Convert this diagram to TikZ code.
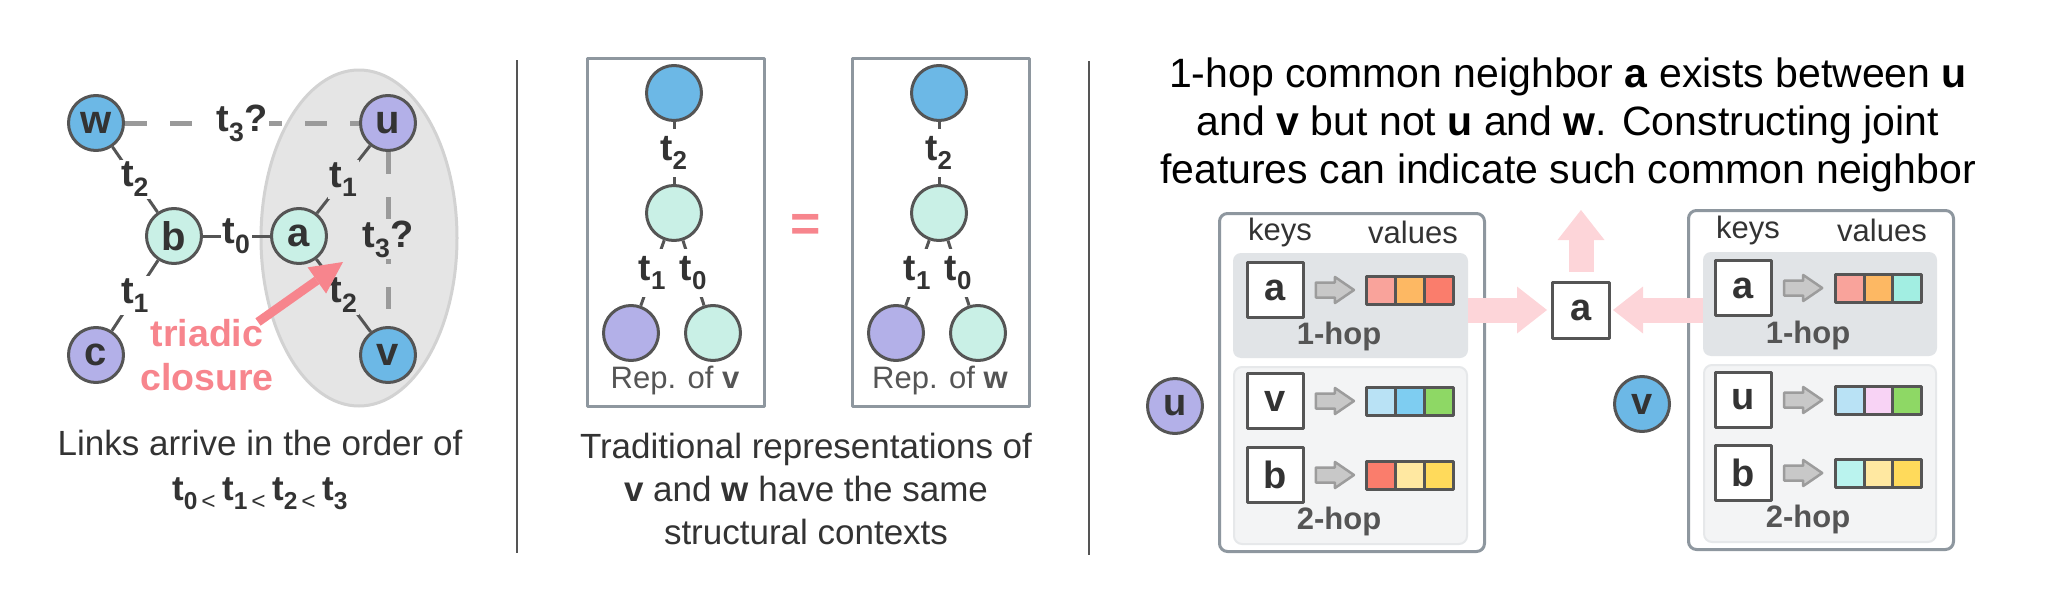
\documentclass[tikz,border=0pt]{standalone}
\usepackage{fontspec}
\setmainfont{Liberation Sans}
\usetikzlibrary{arrows.meta,calc}

\definecolor{nblue}{HTML}{6CB8E6}
\definecolor{npurple}{HTML}{B3B0E8}
\definecolor{nmint}{HTML}{C9F0E6}
\definecolor{ndark}{HTML}{555555}
\definecolor{txtdark}{HTML}{333333}
\definecolor{dashgray}{HTML}{9A9A9A}
\definecolor{ellgray}{HTML}{E5E5E5}
\definecolor{ellline}{HTML}{D2D2D2}
\definecolor{tcpink}{HTML}{F7858D}
\definecolor{boxgray}{HTML}{8E979F}
\definecolor{hopone}{HTML}{E1E4E7}
\definecolor{hoptwo}{HTML}{F3F4F5}
\definecolor{hoptwoline}{HTML}{E6E8EA}
\definecolor{arrpink}{HTML}{FDD5D9}
\definecolor{kvfill}{HTML}{C8C8C8}
\definecolor{kvline}{HTML}{9C9C9C}
% colours of the value cells
\definecolor{vsalmon}{HTML}{F9A39B}
\definecolor{vorange}{HTML}{FDB863}
\definecolor{vred}{HTML}{FA7D6C}
\definecolor{vaqua}{HTML}{A2EEE2}
\definecolor{vlblue}{HTML}{B9E2F5}
\definecolor{vsky}{HTML}{7ECDF1}
\definecolor{vgreen}{HTML}{8ED865}
\definecolor{vpink}{HTML}{F8D3F5}
\definecolor{vcyan}{HTML}{BAF3EE}
\definecolor{vlyellow}{HTML}{FFE8A1}
\definecolor{vyellow}{HTML}{FFDA5B}

\newcommand\tsb[1]{t\textsubscript{#1}}
\newcommand\tlt[1]{t\textsubscript{#1\,{\mdseries <}}}

\tikzset{
  gnode/.style={circle,draw=ndark,line width=3pt,minimum size=55pt,inner sep=0pt,
    font=\fontsize{40}{40}\selectfont\bfseries,text=txtdark},
  gedge/.style={draw=ndark,line width=3pt},
  qedge/.style={draw=dashgray,line width=5pt,dash pattern=on 22pt off 23pt},
  elabel/.style={font=\fontsize{38}{38}\selectfont\bfseries,text=txtdark,
    inner xsep=1.5pt,inner ysep=2pt,fill=white},
  rlabel/.style={font=\fontsize{37}{37}\selectfont\bfseries,text=txtdark,
    inner xsep=2pt,inner ysep=7pt,fill=white},
  captxt/.style={align=center,text=txtdark},
  sepline/.style={draw=ndark,line width=2pt},
  repbox/.style={draw=boxgray,line width=3pt},
  tblbox/.style={draw=boxgray,fill=white,line width=3pt,rounded corners=8pt},
  hopone/.style={fill=hopone,rounded corners=8pt,inner sep=0pt},
  hoptwo/.style={fill=hoptwo,draw=hoptwoline,line width=2pt,rounded corners=8pt,inner sep=0pt},
  hoplbl/.style={font=\fontsize{31}{31}\selectfont\bfseries,text=ndark},
  hdrtxt/.style={font=\fontsize{31}{31}\selectfont,text=txtdark},
  keybox/.style={draw=ndark,line width=3pt,fill=white,minimum width=56pt,minimum height=55pt,
    inner sep=0pt,font=\fontsize{38}{38}\selectfont\bfseries,text=txtdark},
  cell/.style={draw=ndark,line width=3pt,minimum width=28.7pt,minimum height=28pt,inner sep=0pt},
  kvarr/.pic={\draw[draw=kvline,fill=kvfill,line width=2.5pt]
    (-19,-7.5) -- (0,-7.5) -- (0,-13) -- (19,0) -- (0,13) -- (0,7.5) -- (-19,7.5) -- cycle;},
  bigarrow/.style={draw=arrpink,line width=25pt,-{Triangle[width=47pt,length=30pt,line width=0pt]}},
  tcarrow/.style={draw=tcpink,line width=9pt,-{Triangle[width=32pt,length=32pt,line width=0pt]}},
}

\begin{document}
\begin{tikzpicture}[x=1pt,y=-1pt,line join=round]
\useasboundingbox (0,0) rectangle (2048,613);

% temporal graph
\draw[draw=ellline,fill=ellgray,line width=3pt] (359,238) ellipse [x radius=98,y radius=168];
\node[gnode,fill=nblue] (w) at (96,123) {w};
\node[gnode,fill=npurple] (u) at (388,123) {u};
\node[gnode,fill=nmint] (b) at (174,236) {b};
\node[gnode,fill=nmint] (a) at (299,236) {a};
\node[gnode,fill=npurple] (c) at (96,355) {c};
\node[gnode,fill=nblue] (v) at (388,355) {v};
\draw[gedge] (w) -- node[elabel] {\tsb{2}} (b);
\draw[gedge] (b) -- node[elabel] {\tsb{0}} (a);
\draw[gedge] (b) -- node[elabel] {\tsb{1}} (c);
\draw[gedge] (a) -- node[elabel,fill=ellgray] {\tsb{1}} (u);
\draw[gedge] (a) -- node[elabel,fill=ellgray] {\tsb{2}} (v);
\draw[qedge] (w) -- node[elabel] {\tsb{3}?} (u);
\draw[qedge] (u) -- node[elabel,fill=ellgray] {\tsb{3}?} (v);
\node[font=\fontsize{37.5}{44}\selectfont\bfseries,text=tcpink,align=center] (tc) at (207,355) {triadic\\closure};
\coordinate (tcs) at (258,322);
\coordinate (tce) at (343,262);
\draw[tcarrow] (tcs) -- (tce);
\node[captxt,font=\fontsize{35}{45}\selectfont] (cap1) at (260,470)
  {Links arrive in the order of\\{\bfseries\tlt{0}\,\tlt{1}\,\tlt{2}\,\tsb{3}}};

% separators
\coordinate (s1t) at (517,60);  \coordinate (s1b) at (517,553);
\coordinate (s2t) at (1089,61); \coordinate (s2b) at (1089,555);
\draw[sepline] (s1t) -- (s1b);
\draw[sepline] (s2t) -- (s2b);

% structural contexts of v and w
\foreach \r/\dx in {v/0,w/265}{
  \begin{scope}[xshift=\dx]
    \draw[repbox] (587,58) rectangle (764,406);
    \node[gnode,fill=nblue] (top\r) at (674,93) {};
    \node[gnode,fill=nmint] (mid\r) at (674,213) {};
    \node[gnode,fill=npurple] (bl\r) at (631,333) {};
    \node[gnode,fill=nmint] (br\r) at (713,333) {};
    \draw[gedge] (top\r) -- node[rlabel] {\tsb{2}} (mid\r);
    \draw[gedge] (mid\r) -- node[rlabel] {\tsb{1}} (bl\r);
    \draw[gedge] (mid\r) -- node[rlabel] {\tsb{0}} (br\r);
    \node[font=\fontsize{31}{31}\selectfont,text=ndark] (rep\r) at (675,380) {Rep. of \textbf{\r}};
  \end{scope}
}
\node[text=tcpink,font=\fontsize{52}{52}\selectfont\bfseries] (eq) at (806,228) {=};
\node[captxt,font=\fontsize{35}{43}\selectfont] (cap2) at (806,489)
  {Traditional representations of\\\textbf{v} and \textbf{w} have the same\\structural contexts};

% joint features
\node[align=center,text=black,font=\fontsize{41}{48}\selectfont] (cap3) at (1568,125)
  {1-hop common neighbor \textbf{a} exists between \textbf{u}\\and \textbf{v} but not \textbf{u} and \textbf{w}. Constructing joint\\features can indicate such common neighbor};

\node[gnode,fill=npurple,font=\fontsize{38}{38}\selectfont\bfseries] (pu) at (1175,406) {u};
\node[gnode,fill=nblue,font=\fontsize{38}{38}\selectfont\bfseries] (pv) at (1642,404) {v};

% table of u
\draw[tblbox] (1219.5,213.5) rectangle (1484.5,551.5);
\node[hdrtxt] at (1280,232) {keys};
\node[hdrtxt] at (1413,232) {values};
\node[hopone,minimum width=235pt,minimum height=105pt] (L1) at (1350.5,305.5) {};
\node[hoptwo,minimum width=233pt,minimum height=177pt] (L2) at (1350.5,455.5) {};
\node[hoplbl] at (1339,336) {1-hop};
\node[hoplbl] at (1339,521) {2-hop};
\foreach \k/\y/\ca/\cb/\cc [count=\i] in {a/290/vsalmon/vorange/vred,v/401/vlblue/vsky/vgreen,b/475/vred/vlyellow/vyellow}{
  \node[keybox] (Lk\i) at (1275,\y) {\k};
  \node[cell,fill=\ca] (La\i) at (1381.3,\y) {};
  \node[cell,fill=\cb] (Lb\i) at (1410,\y) {};
  \node[cell,fill=\cc] (Lc\i) at (1438.7,\y) {};
  \pic at ($(Lk\i.east)!.5!(La\i.west)$) {kvarr};
}

% table of v
\draw[tblbox] (1688.5,210.5) rectangle (1953.5,549.5);
\node[hdrtxt] at (1748,230) {keys};
\node[hdrtxt] at (1882,230) {values};
\node[hopone,minimum width=234pt,minimum height=104pt] (R1) at (1820,304) {};
\node[hoptwo,minimum width=232pt,minimum height=177pt] (R2) at (1820,453.5) {};
\node[hoplbl] at (1808,335) {1-hop};
\node[hoplbl] at (1808,519) {2-hop};
\foreach \k/\y/\ca/\cb/\cc [count=\i] in {a/288/vsalmon/vorange/vaqua,u/400/vlblue/vpink/vgreen,b/473/vcyan/vlyellow/vyellow}{
  \node[keybox] (Rk\i) at (1743,\y) {\k};
  \node[cell,fill=\ca] (Ra\i) at (1849.8,\y) {};
  \node[cell,fill=\cb] (Rb\i) at (1878.5,\y) {};
  \node[cell,fill=\cc] (Rc\i) at (1907.2,\y) {};
  \pic at ($(Rk\i.east)!.5!(Ra\i.west)$) {kvarr};
}

% common neighbor
\node[keybox,minimum width=57pt,minimum height=56pt,font=\fontsize{38}{38}\selectfont\bfseries] (ca) at (1581,310) {a};
\coordinate (up) at (1581,210);
\draw[bigarrow,shorten >=4pt] (L1.east |- ca.west) -- (ca.west);
\draw[bigarrow,shorten >=2pt] (R1.west |- ca.east) -- (ca.east);
\draw[bigarrow] ([yshift=9pt]ca.north) -- (up);

\end{tikzpicture}
\end{document}
